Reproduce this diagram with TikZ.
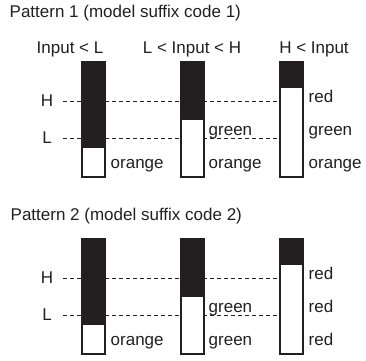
\documentclass[tikz,border=0pt]{standalone}
\usepackage{fontspec}
\setmainfont{Liberation Sans}
\usetikzlibrary{backgrounds}
\definecolor{ink}{HTML}{231F20}
\begin{document}
\begin{tikzpicture}[x=1pt,y=-1pt,
  txt/.style={font=\fontsize{17}{19}\selectfont, text=ink, inner sep=0pt},
  lab/.style={txt, anchor=base west},
  bar/.style={draw=ink, fill=white, line width=1.1pt, minimum width=22pt, minimum height=114pt, inner sep=0pt, anchor=north west},
  dline/.style={draw=ink, line width=0.9pt, dash pattern=on 4pt off 3pt},
  outl/.style={draw=ink, line width=1.1pt}]
\useasboundingbox (0,0) rectangle (366,360);

% ---------- Pattern 1 ----------
\node[lab] (t1) at (9.5,17.5) {Pattern 1 (model suffix code 1)};
\node[txt, anchor=base] (hd1) at (70,53) {Input < L};
\node[txt, anchor=base] (hd2) at (192,53) {L < Input < H};
\node[txt, anchor=base] (hd3) at (314,53) {H < Input};

\node[txt] (H1) at (47,101) {H};
\node[txt] (L1) at (47,138) {L};
\coordinate (h1) at (63,101);
\coordinate (l1) at (63,138);

\node[bar] (a1) at (82,62) {};
\node[bar] (b1) at (181,62) {};
\node[bar] (c1) at (280,62) {};
\begin{scope}[on background layer]
  \draw[dline] (h1) -- (h1 -| c1.west);
  \draw[dline] (l1) -- (l1 -| c1.west);
\end{scope}
\fill[ink] (a1.north west) rectangle (a1.east |- 0,148);
\fill[ink] (b1.north west) rectangle (b1.east |- 0,120);
\fill[ink] (c1.north west) rectangle (c1.east |- 0,88);
\draw[outl] (a1.north west) rectangle (a1.south east);
\draw[outl] (b1.north west) rectangle (b1.south east);
\draw[outl] (c1.north west) rectangle (c1.south east);

\node[lab] (a1o) at (110.5,168.5) {orange};
\node[lab] (b1g) at (208.5,135.5) {green};
\node[lab] (b1o) at (208.5,168.5) {orange};
\node[lab] (c1r) at (308.5,102.5) {red};
\node[lab] (c1g) at (308.5,135.5) {green};
\node[lab] (c1o) at (308.5,168.5) {orange};

% ---------- Pattern 2 ----------
\node[lab] (t2) at (10.5,220) {Pattern 2 (model suffix code 2)};

\node[txt] (H2) at (47,278) {H};
\node[txt] (L2) at (47,315) {L};
\coordinate (h2) at (63,278);
\coordinate (l2) at (63,315);

\node[bar] (a2) at (82,239) {};
\node[bar] (b2) at (181,239) {};
\node[bar] (c2) at (280,239) {};
\begin{scope}[on background layer]
  \draw[dline] (h2) -- (h2 -| c2.west);
  \draw[dline] (l2) -- (l2 -| c2.west);
\end{scope}
\fill[ink] (a2.north west) rectangle (a2.east |- 0,325);
\fill[ink] (b2.north west) rectangle (b2.east |- 0,297);
\fill[ink] (c2.north west) rectangle (c2.east |- 0,265);
\draw[outl] (a2.north west) rectangle (a2.south east);
\draw[outl] (b2.north west) rectangle (b2.south east);
\draw[outl] (c2.north west) rectangle (c2.south east);

\node[lab] (a2o) at (110.5,345.5) {orange};
\node[lab] (b2g) at (208.5,312.5) {green};
\node[lab] (b2h) at (208.5,345.5) {green};
\node[lab] (c2r) at (308.5,279.5) {red};
\node[lab] (c2s) at (308.5,312.5) {red};
\node[lab] (c2t) at (308.5,345.5) {red};
\end{tikzpicture}
\end{document}
